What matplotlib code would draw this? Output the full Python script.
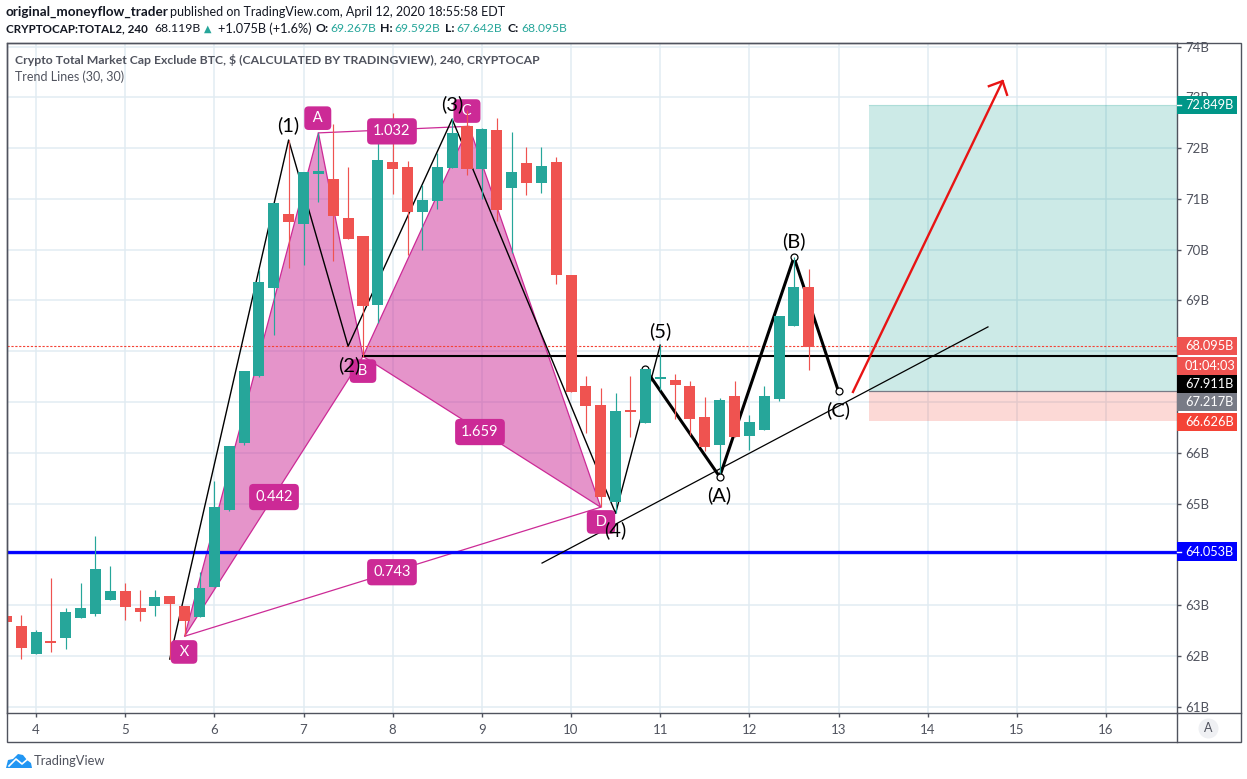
"""Crypto total market cap chart with harmonic pattern and wave drawings."""

import matplotlib

matplotlib.use("Agg")

import matplotlib.pyplot as plt
import numpy as np
from matplotlib.patches import Polygon, Rectangle
from matplotlib.transforms import blended_transform_factory

plt.rcParams["font.family"] = ["Lato", "DejaVu Sans"]

# candles, billions
opens = [62.79, 62.59, 62.04, 62.29, 62.35, 62.75, 62.83, 63.10, 63.28, 62.94, 62.98,
         63.18, 62.98, 62.77, 63.36, 64.88, 66.20, 67.51, 69.25, 70.71, 70.51, 71.49,
         71.39, 70.63, 70.27, 68.91, 71.73, 71.63, 70.74, 70.96, 71.61, 72.43, 71.59,
         72.36, 71.22, 71.71, 71.31, 71.73, 69.51, 67.32, 66.94, 65.04, 66.84, 66.59,
         67.45, 67.43, 67.32, 66.71, 66.16, 67.12, 66.33, 66.45, 67.06, 68.49, 69.27]
closes = [62.67, 62.16, 62.47, 62.26, 62.86, 62.94, 63.71, 63.28, 62.96, 62.86, 63.16,
          63.02, 62.69, 63.34, 64.94, 66.14, 67.61, 69.36, 70.92, 70.55, 71.53, 71.55,
          70.67, 70.21, 68.89, 71.77, 71.59, 70.74, 70.98, 71.63, 72.30, 71.59, 72.38,
          70.78, 71.53, 71.31, 71.65, 69.51, 67.20, 66.92, 65.13, 66.82, 66.80, 67.65,
          67.49, 67.34, 66.67, 66.12, 67.04, 66.31, 66.61, 67.12, 68.69, 69.27, 68.08]
highs = [62.79, 62.81, 62.51, 63.53, 62.94, 63.43, 64.37, 63.78, 63.43, 63.30, 63.30,
         63.18, 62.98, 63.65, 65.45, 66.14, 67.61, 69.60, 70.92, 72.16, 71.53, 72.30,
         72.47, 71.63, 70.27, 72.10, 72.69, 71.75, 71.28, 71.90, 72.59, 72.75, 72.40,
         72.59, 72.32, 72.02, 72.02, 71.83, 69.51, 67.51, 67.28, 67.18, 67.51, 67.65,
         68.12, 67.55, 67.41, 67.10, 67.08, 67.41, 66.75, 67.32, 68.69, 69.86, 69.62]
lows = [62.67, 61.94, 62.04, 62.08, 62.14, 62.75, 62.79, 63.10, 62.71, 62.69, 62.79,
        61.94, 62.39, 62.77, 63.36, 64.86, 66.16, 67.49, 68.32, 69.64, 69.70, 70.94,
        69.78, 70.21, 67.89, 68.55, 71.10, 69.90, 70.00, 70.80, 71.61, 71.47, 71.00,
        70.57, 69.94, 71.08, 71.12, 69.33, 67.20, 66.39, 64.94, 64.82, 66.31, 66.59,
        67.24, 66.67, 66.35, 66.04, 65.61, 66.31, 66.06, 66.45, 67.02, 68.49, 67.63]
first_candle_day = 3.667

# drawings, x in days and y in billions
wave_x = [5.5, 6.833, 7.5, 8.667, 10.5, 11.0]
wave_y = [61.94, 72.16, 68.10, 72.57, 64.81, 68.12]
abc_x = [10.833, 11.667, 12.5, 13.0]
abc_y = [67.65, 65.53, 69.85, 67.21]
pattern_x = [5.667, 7.167, 7.667, 8.856, 10.333]
pattern_y = [62.39, 72.30, 67.90, 72.43, 64.93]
trend_x = [9.675, 14.676]
trend_y = [63.83, 68.48]
arrow_x = [13.162, 14.84]
arrow_y = [67.20, 73.32]
arrow_head_x = [14.686, 14.84, 14.89]
arrow_head_y = [73.22, 73.32, 73.05]

support_price = 64.053
last_price = 68.095
neckline_price = 67.911
target_price = 72.849
entry_price = 67.217
stop_price = 66.626
position_start_day = 13.342

wave_names = ["(1)", "(2)", "(3)", "(4)", "(5)", "(A)", "(B)", "(C)"]
wave_name_x = [6.833, 7.51, 8.667, 10.5, 11.0, 11.667, 12.5, 13.0]
wave_name_y = [72.45, 67.73, 72.87, 64.48, 68.40, 65.17, 70.17, 66.84]
point_names = ["X", "A", "B", "D"]
point_name_x = [5.66, 7.16, 7.667, 10.336]
point_name_y = [62.08, 72.59, 67.61, 64.64]
ratio_names = ["1.032", "0.442", "1.659", "0.743"]
ratio_x = [7.992, 6.669, 8.979, 7.992]
ratio_y = [72.33, 65.13, 66.41, 63.65]

day_ticks = list(range(4, 17))
price_ticks = list(range(61, 75))
hidden_price_labels = [64, 67, 68]

tag_labels = ["68.095B", "01:04:03", "67.911B", "67.217B", "66.626B", "72.849B", "64.053B"]
tag_prices = [68.10, 67.71, 67.36, 67.0, 66.61, 72.849, 64.053]
tag_colors = ["#ef5350", "#ef5350", "#000000", "#787b86", "#f44336", "#009688", "#0000ff"]

GREEN = "#26a69a"
RED = "#ef5350"
MAGENTA = "#cc2a96"
GRID = "#e1ecf2"
LINE = "#50535e"
ARROW = "#e81414"
W, H = 1247, 779
LEFT, RIGHT, TOP, BOTTOM = 6.5, 1177, 43, 713
PANEL_RIGHT, PANEL_BOTTOM = 1240.5, 742


def px(x, y):
    """Pixel position from the top left corner to figure fraction."""
    return x / W, 1 - y / H


def text_at(x, y, s, color, size, weight="normal"):
    fx, fy = px(x, y)
    fig.text(fx, fy, s, fontsize=size, color=color, fontweight=weight, ha="left", va="center")


fig = plt.figure(figsize=(W / 100, H / 100), dpi=100, facecolor="white")
ax = fig.add_axes([LEFT / W, 1 - BOTTOM / H, (RIGHT - LEFT) / W, (BOTTOM - TOP) / H])
ax.set_xlim(3.669, 16.796)
ax.set_ylim(60.878, 74.07)

for side in ["top", "left", "right", "bottom"]:
    ax.spines[side].set_color(LINE)
    ax.spines[side].set_linewidth(1)

ax.set_xticks(day_ticks)
ax.set_yticks(price_ticks)
ax.set_xticklabels([str(d) for d in day_ticks], fontsize=9.5, color=LINE)
ax.set_yticklabels(["" if p in hidden_price_labels else f"{p}B" for p in price_ticks],
                   fontsize=9.5, color=LINE)
ax.yaxis.tick_right()
ax.tick_params(axis="x", length=3, width=1, color=LINE, pad=5)
ax.tick_params(axis="y", length=3, width=1, color=LINE, pad=3)
ax.grid(True, color=GRID, linewidth=1.1)
ax.set_axisbelow(True)

# long/short position boxes
ax.fill_between([position_start_day, 16.796], entry_price, target_price,
                color="#009688", alpha=0.2, linewidth=0, zorder=1)
ax.fill_between([position_start_day, 16.796], stop_price, entry_price,
                color="#f44336", alpha=0.2, linewidth=0, zorder=1)
ax.plot([position_start_day, 16.796], [entry_price, entry_price], color="#787b86", lw=0.9, zorder=1.5)
ax.plot([position_start_day, 16.796], [target_price, target_price], color="#009688", alpha=0.15, lw=0.9, zorder=1.5)

# harmonic pattern
for i in [(0, 1, 2), (2, 3, 4)]:
    pts = [(pattern_x[j], pattern_y[j]) for j in i]
    ax.add_patch(Polygon(pts, closed=True, facecolor=MAGENTA, alpha=0.5, edgecolor="none", zorder=2))
    ax.add_patch(Polygon(pts, closed=True, fill=False, edgecolor=MAGENTA, lw=0.9, zorder=2.1))
ax.plot([pattern_x[0], pattern_x[4]], [pattern_y[0], pattern_y[4]], color=MAGENTA, lw=0.9, zorder=2.1)
ax.plot([pattern_x[1], pattern_x[3]], [pattern_y[1], pattern_y[3]], color=MAGENTA, lw=0.9, zorder=2.1)

# horizontal levels
ax.axhline(support_price, color="#0000ff", lw=3.4, alpha=0.15, zorder=3)
ax.axhline(support_price, color="#0000ff", lw=2.1, zorder=3)
ax.axhline(last_price, color="#f44336", lw=0.8, dashes=(2, 1.5), zorder=3)
ax.plot([pattern_x[2], 16.796], [neckline_price, neckline_price], color="black", lw=1.5, zorder=3)

# wave lines
ax.plot(wave_x, wave_y, color="black", lw=1.0, zorder=3.2)
ax.plot(trend_x, trend_y, color="black", lw=0.9, zorder=3.2)
ax.plot(abc_x, abc_y, color="black", lw=2.2, zorder=3.2)
ax.plot(abc_x, abc_y, ls="none", marker="o", ms=5, mfc="white", mec="black", mew=0.9, zorder=3.3)
ax.plot(arrow_x, arrow_y, color=ARROW, lw=1.7, zorder=3.2)
ax.plot(arrow_head_x, arrow_head_y, color=ARROW, lw=1.7, zorder=3.2)

# the C label stays behind the candle wick, as on the chart
letter_box = dict(boxstyle="round,pad=0.33,rounding_size=0.3", fc=MAGENTA, ec="none")
ax.text(8.833, 72.73, " C ", color="white", fontsize=10.5, ha="center", va="center", zorder=3.5,
        bbox=letter_box)

# candles
opens_a, closes_a = np.array(opens), np.array(closes)
candle_x = first_candle_day + np.arange(len(opens)) / 6
candle_colors = [GREEN if c >= o else RED for o, c in zip(opens, closes)]
ax.vlines(candle_x, lows, highs, colors=candle_colors, linewidth=0.85, zorder=4)
ax.bar(candle_x, np.abs(closes_a - opens_a), bottom=np.minimum(opens_a, closes_a), width=0.124,
       color=candle_colors, linewidth=0, zorder=4.1)

# annotation boxes
for name, x, y in zip(point_names, point_name_x, point_name_y):
    ax.text(x, y, f" {name} ", color="white", fontsize=10.5, ha="center", va="center", zorder=5,
            bbox=letter_box)
for name, x, y in zip(ratio_names, ratio_x, ratio_y):
    ax.text(x, y, name, color="white", fontsize=10.5, ha="center", va="center", zorder=5,
            bbox=dict(boxstyle="round,pad=0.42,rounding_size=0.3", fc=MAGENTA, ec="none"))
for name, x, y in zip(wave_names, wave_name_x, wave_name_y):
    ax.text(x, y, name, color="black", fontsize=14.5, ha="center", va="center", zorder=6)

# price tags on the right scale
tag_tf = blended_transform_factory(ax.transAxes, ax.transData)
tag_w = 59.5 / (RIGHT - LEFT)
tag_h = 18.5 / 50.8
tag_text_x = 8 / (RIGHT - LEFT)
for label, price, color in zip(tag_labels, tag_prices, tag_colors):
    ax.add_patch(Rectangle((1.0, price - tag_h / 2), tag_w, tag_h, transform=tag_tf,
                           facecolor=color, edgecolor="none", clip_on=False, zorder=7))
    ax.text(1.0 + tag_text_x, price, label, transform=tag_tf, color="white", fontsize=9.2,
            ha="left", va="center", clip_on=False, zorder=8)
for price in [target_price, support_price]:
    ax.plot([1.0, 1.0 + 4 / (RIGHT - LEFT)], [price, price], transform=tag_tf, color="white",
            lw=1, clip_on=False, zorder=7.5)

# outer frame and the corner button
frame_xy = [px(LEFT, TOP), px(PANEL_RIGHT, TOP), px(PANEL_RIGHT, PANEL_BOTTOM), px(LEFT, PANEL_BOTTOM)]
fig.add_artist(Polygon(frame_xy, closed=True, fill=False, edgecolor=LINE, lw=1, transform=fig.transFigure))
fig.add_artist(plt.Line2D(*zip(px(RIGHT, BOTTOM), px(RIGHT, PANEL_BOTTOM)), color=LINE, lw=1))
fig.add_artist(plt.Line2D(*zip(px(RIGHT, BOTTOM), px(PANEL_RIGHT, BOTTOM)), color=LINE, lw=1))
cx, cy = px(1208, 728)
fig.add_artist(plt.Line2D([cx], [cy], marker="o", ms=14.4, mfc="#eff0f3", mec="none"))
fig.text(cx, cy, "A", fontsize=9, color=LINE, ha="center", va="center")

# header lines
DARK = "#131722"
text_at(6, 12, "original_moneyflow_trader", DARK, 9.7, "bold")
text_at(170, 12, "published on TradingView.com, April 12, 2020 18:55:58 EDT", DARK, 9.0)
text_at(6, 29, "CRYPTOCAP:TOTAL2, 240", DARK, 8.4, "bold")
text_at(154, 29, "68.119B", DARK, 8.8)
text_at(204, 29, "\u25b2", GREEN, 7)
text_at(218, 29, "+1.075B (+1.6%)", DARK, 9.2)
for label, value, label_x in zip(["O:", "H:", "L:", "C:"],
                                 ["69.267B", "69.592B", "67.642B", "68.095B"],
                                 [316, 380, 445, 507]):
    text_at(label_x, 29, label, DARK, 8.8, "bold")
    text_at(label_x + 14 if label != "L:" else label_x + 11, 29, value, GREEN, 8.7)
text_at(15, 60, "Crypto Total Market Cap Exclude BTC, $ (CALCULATED BY TRADINGVIEW), 240, CRYPTOCAP", LINE, 8.8, "bold")
text_at(15, 77, "Trend Lines (30, 30)", LINE, 9.0)

# logo
cloud = [px(6, 768), px(8, 760), px(13, 759), px(18, 754), px(23, 755), px(27, 760), px(31, 763), px(32, 768)]
fig.add_artist(Polygon(cloud, closed=True, facecolor="#2196f3", edgecolor="none", transform=fig.transFigure))
zig = [px(9, 766), px(16, 759), px(22, 764), px(29, 758)]
fig.add_artist(plt.Line2D(*zip(*zig), color="white", lw=1.2))
text_at(34, 761, "TradingView", LINE, 9.3)

fig.savefig("out.png", dpi=100, facecolor="white")
